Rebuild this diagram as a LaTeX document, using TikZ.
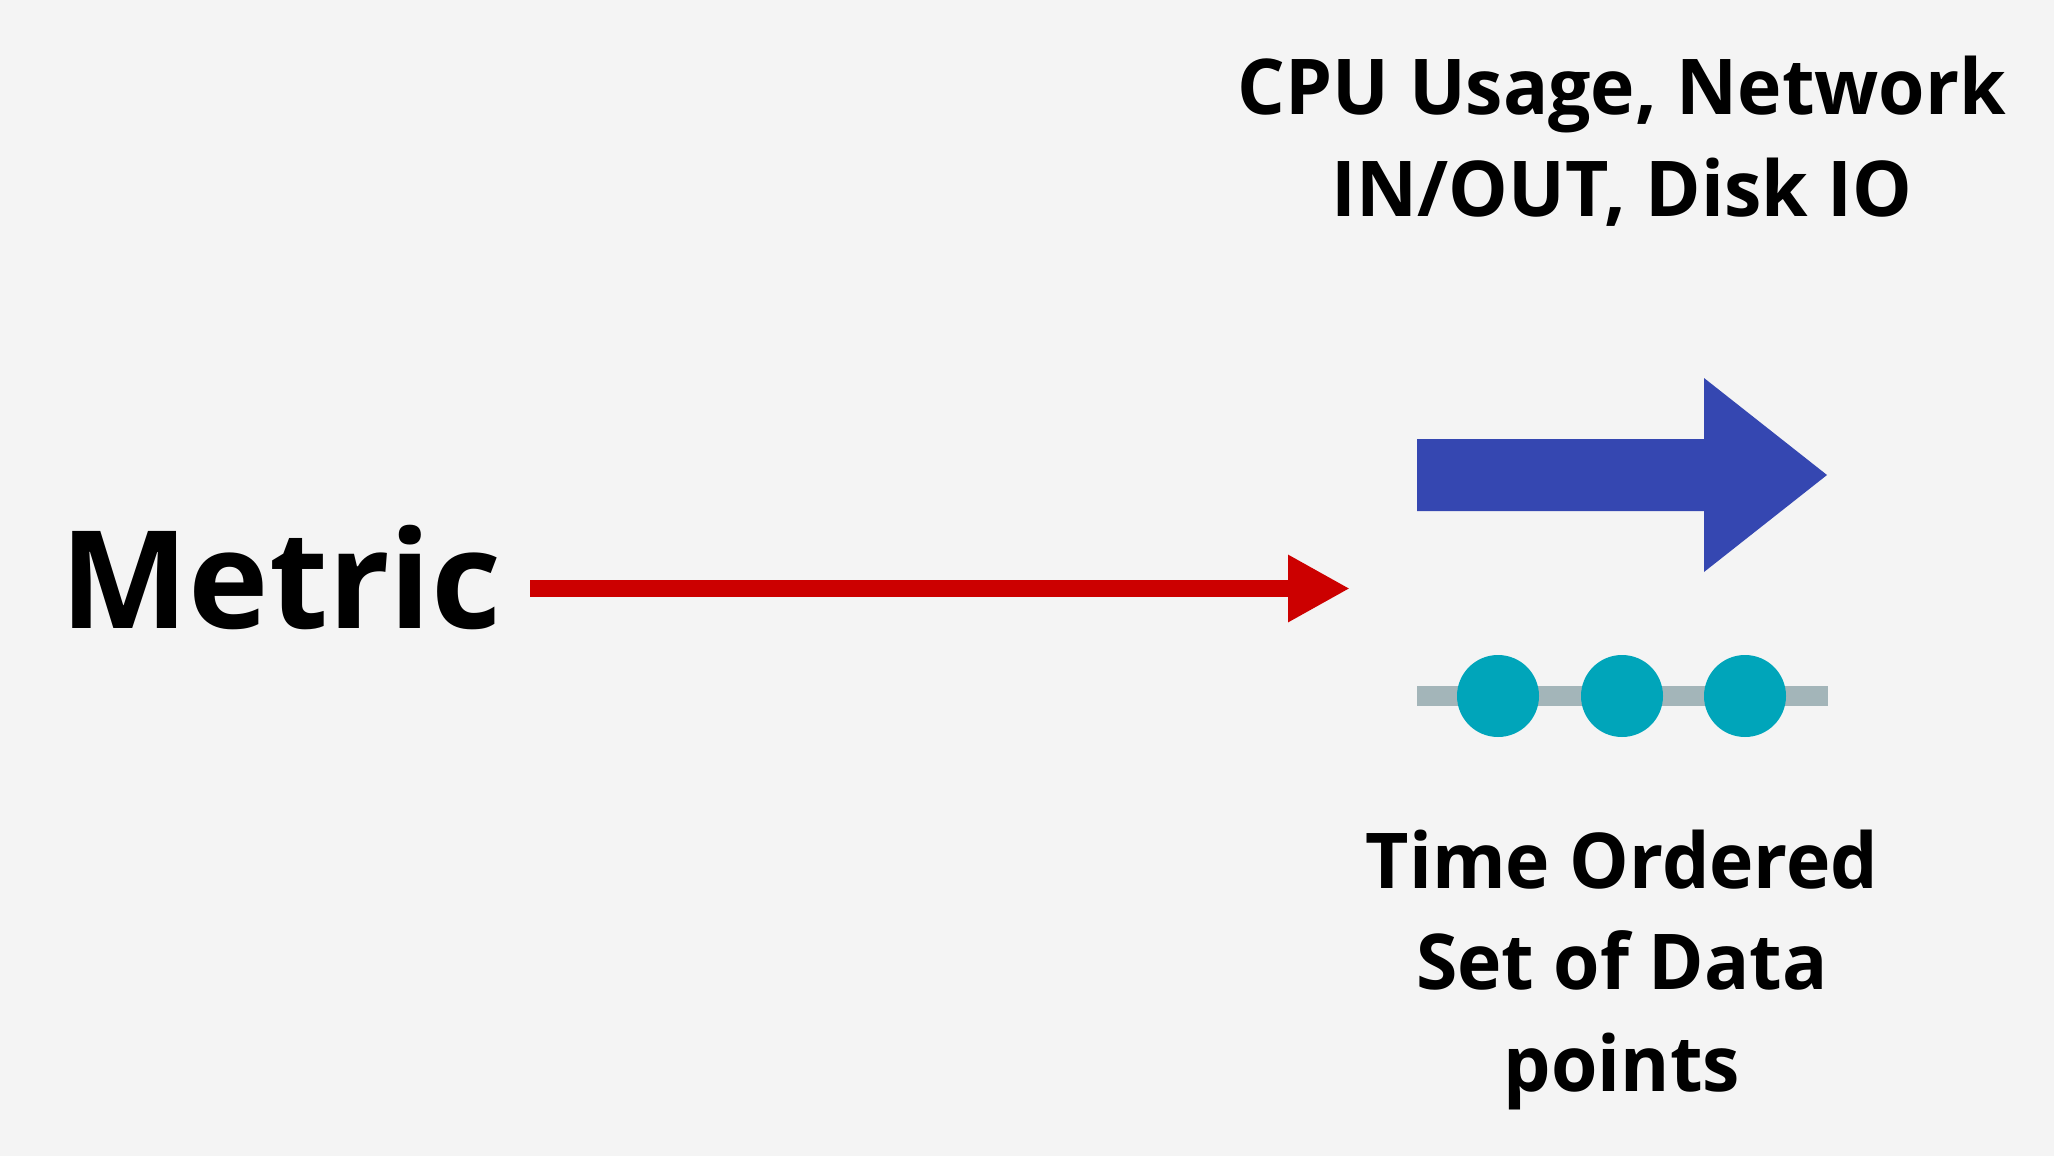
\documentclass[tikz,border=0pt]{standalone}
\usepackage{fontspec}
\setmainfont{Open Sans}
\newfontfamily\lblfont{Open Sans}[FakeStretch=0.975]
\usetikzlibrary{arrows.meta}
\definecolor{bgc}{HTML}{F4F4F4}
\definecolor{redc}{HTML}{CC0000}
\definecolor{bluec}{HTML}{3547B1}
\definecolor{grayc}{HTML}{A3B5B9}
\definecolor{tealc}{HTML}{00A5BA}
\tikzset{
  bigtxt/.style={inner sep=0pt, font=\fontsize{136}{160}\selectfont\bfseries},
  lbl/.style={inner sep=0pt, align=center, font=\lblfont\fontsize{77}{101.5}\selectfont\bfseries},
  dot/.style={circle, fill=tealc, inner sep=0pt, minimum size=82pt},
}
\begin{document}
\begin{tikzpicture}[x=1pt,y=-1pt]
\fill[bgc] (0,0) rectangle (2054,1156);
\useasboundingbox (0,0) rectangle (2054,1156);
\node[bigtxt, anchor=base] (metric) at (281,628) {Metric};
\coordinate (rs) at (530,588.5);
\coordinate (re) at (1350,588.5);
\draw[redc, line width=17pt, -{Triangle[length=62pt,width=63pt]}] (rs) -- (re);
\fill[bluec] (1417,439) -- (1704,439) -- (1704,378) -- (1827,475) -- (1704,572) -- (1704,511) -- (1417,511) -- cycle;
\coordinate (gl) at (1417,696);
\coordinate (gr) at (1828,696);
\draw[grayc, line width=20pt] (gl) -- (gr);
\node[dot] (d1) at (1498,696) {};
\node[dot] (d2) at (1622,696) {};
\node[dot] (d3) at (1745,696) {};
\node[lbl, anchor=base] (top) at (1622,216) {CPU Usage, Network\\IN/OUT, Disk IO};
\node[lbl, anchor=base] (bot) at (1622,1091) {Time Ordered\\Set of Data\\points};
\end{tikzpicture}
\end{document}
